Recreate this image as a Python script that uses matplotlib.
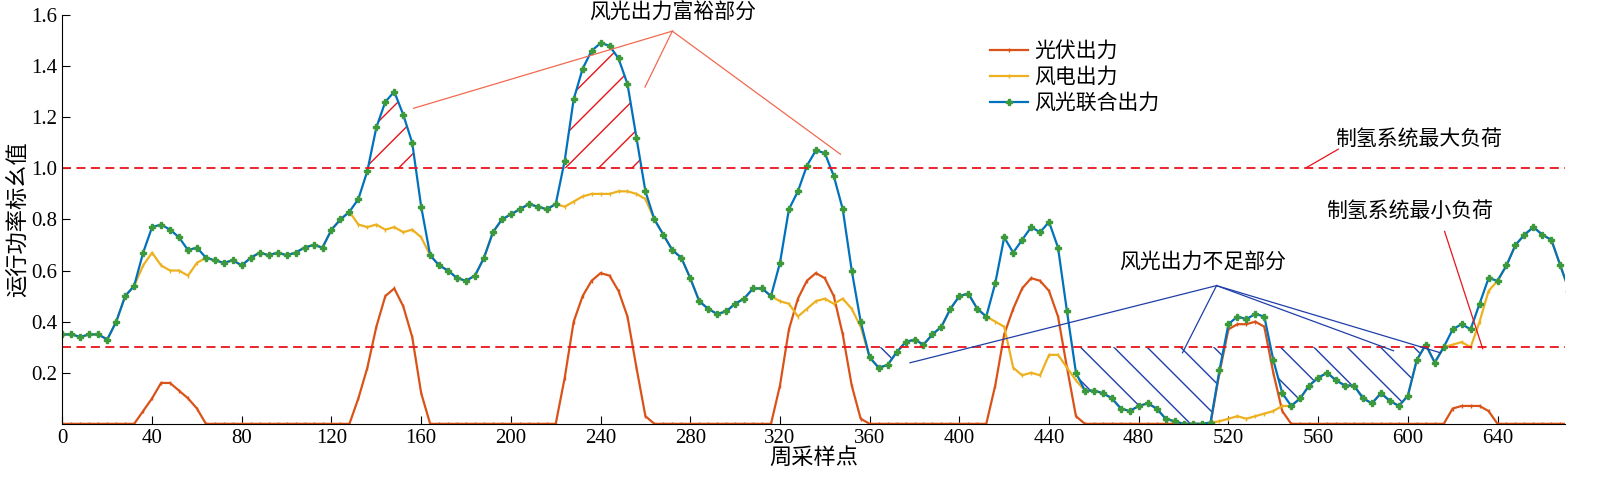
import numpy as np
import matplotlib
matplotlib.use("Agg")
import matplotlib.pyplot as plt

plt.rcParams['font.family'] = ['Liberation Serif', 'Noto Sans CJK SC']
plt.rcParams['hatch.linewidth'] = 1.0

wind = [0.35,0.35,0.34,0.35,0.35,0.33,0.40,0.50,0.54,0.62,0.67,0.62,0.60,0.60,0.58,0.63,
        0.65,0.64,0.63,0.64,0.62,0.65,0.67,0.66,0.67,0.66,0.67,0.69,0.70,0.69,0.76,0.80,
        0.83,0.78,0.77,0.78,0.76,0.77,0.75,0.76,0.73,0.66,0.62,0.60,0.57,0.56,0.58,0.65,
        0.75,0.80,0.82,0.84,0.86,0.85,0.84,0.86,0.85,0.87,0.89,0.90,0.90,0.90,0.91,0.91,
        0.90,0.88,0.80,0.74,0.68,0.65,0.57,0.48,0.45,0.43,0.44,0.47,0.49,0.53,0.53,0.50,
        0.48,0.47,0.42,0.45,0.48,0.49,0.47,0.49,0.45,0.38,0.26,0.22,0.23,0.28,0.32,0.33,
        0.31,0.35,0.38,0.45,0.50,0.51,0.45,0.42,0.40,0.38,0.22,0.19,0.20,0.19,0.27,0.27,
        0.22,0.17,0.13,0.13,0.12,0.10,0.06,0.05,0.07,0.08,0.06,0.02,0.01,0.00,0.00,0.00,
        0.005,0.01,0.02,0.03,0.02,0.03,0.04,0.05,0.07,0.07,0.10,0.15,0.18,0.20,0.17,0.15,
        0.15,0.10,0.08,0.12,0.09,0.07,0.11,0.25,0.31,0.24,0.30,0.31,0.32,0.30,0.40,0.52,
        0.56,0.62,0.70,0.74,0.77,0.74,0.72,0.62,0.52,0.62]
wind = np.array(wind)
x = np.arange(len(wind)) * 4
pv = np.zeros(len(x))
pv_segments = {
    36: [0.05,0.10,0.16,0.16,0.13,0.10,0.06],
    132: [0.10,0.22,0.38,0.50,0.53,0.46,0.34,0.12],
    224: [0.18,0.40,0.50,0.56,0.59,0.58,0.52,0.42,0.22,0.03],
    320: [0.15,0.37,0.49,0.56,0.59,0.57,0.50,0.35,0.15,0.02],
    416: [0.15,0.35,0.45,0.53,0.57,0.56,0.52,0.42,0.22,0.03],
    516: [0.20,0.37,0.39,0.39,0.40,0.38,0.20,0.05],
    620: [0.06,0.07,0.07,0.07,0.05],
}
for start, vals in pv_segments.items():
    i0 = start // 4
    pv[i0:i0 + len(vals)] = vals
combined = wind + pv

max_load, min_load = 1.0, 0.3
xticks = list(range(0, 641, 40))
yticks = [0.2, 0.4, 0.6, 0.8, 1.0, 1.2, 1.4, 1.6]

fig = plt.figure(figsize=(16, 5.01), dpi=100)
ax = fig.add_axes([0.039, 0.154, 0.939, 0.816])

c_pv, c_wind, c_comb = '#D95319', '#EDB120', '#0072BD'
ax.plot(x, pv, color=c_pv, lw=1.6, marker='|', ms=3, label='光伏出力')
ax.plot(x, wind, color=c_wind, lw=1.6, marker='|', ms=3, label='风电出力')
ax.plot(x, combined, color=c_comb, lw=1.6, marker='P', ms=4.5,
        mfc='#3c9a3c', mec='#3c9a3c', label='风光联合出力')

ax.axhline(max_load, color='#E8141A', ls=(0, (5, 3)), lw=1.3)
ax.axhline(min_load, color='#E8141A', ls=(0, (5, 3)), lw=1.3)

ax.fill_between(x, combined, max_load, where=combined > max_load, interpolate=True,
                facecolor='none', edgecolor='#E8141A', hatch='/', lw=0)
blue_mask = (combined < min_load) & (((x > 355) & (x < 380)) | ((x > 445) & (x < 612)))
ax.fill_between(x, combined, min_load, where=blue_mask, interpolate=True,
                facecolor='none', edgecolor='#1F3FA8', hatch='\\', lw=0)

fs = 15
ax.text(272, 1.565, '风光出力富裕部分', ha='center', va='bottom', fontsize=fs)
for tx, ty in [(156.6, 1.235), (259.8, 1.318), (347, 1.055)]:
    ax.plot([272, tx], [1.537, ty], color='#F06A50', lw=0.9)
ax.text(508.5, 0.631, '风光出力不足部分', ha='center', va='center', fontsize=fs)
for tx, ty in [(378, 0.239), (499.5, 0.278), (593.6, 0.286), (614.6, 0.278)]:
    ax.plot([514.7, tx], [0.541, ty], color='#1F3FA8', lw=0.9)
ax.text(604.8, 1.11, '制氢系统最大负荷', ha='center', va='center', fontsize=fs)
ax.plot([569, 555], [1.075, 1.004], color='#E8141A', lw=0.9)
ax.text(601, 0.827, '制氢系统最小负荷', ha='center', va='center', fontsize=fs)
ax.plot([616.4, 633.4], [0.753, 0.294], color='#E8141A', lw=0.9)

ax.set_xlim(0, 670)
ax.set_ylim(0, 1.6)
ax.set_xticks(xticks)
ax.set_yticks(yticks)
ax.set_yticklabels([f'{v:.1f}' for v in yticks])
ax.tick_params(direction='in', labelsize=15, length=6)
ax.spines['top'].set_visible(False)
ax.spines['right'].set_visible(False)
ax.set_xlabel('周采样点', fontsize=16, labelpad=0)
ax.set_ylabel('运行功率标幺值', fontsize=16, labelpad=2)

ax.legend(loc='upper left', bbox_to_anchor=(0.605, 0.98), frameon=False,
          fontsize=fs, handlelength=1.8, labelspacing=0.3, handletextpad=0.3)

fig.savefig('out.png', dpi=100)
